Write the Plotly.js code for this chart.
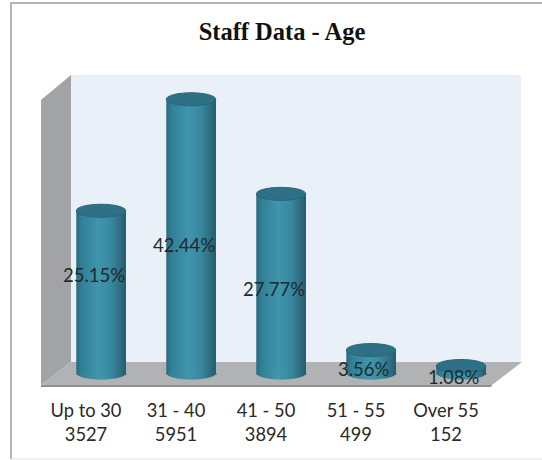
<!DOCTYPE html>
<html>
<head>
<meta charset="utf-8">
<script src="https://cdn.plot.ly/plotly-3.0.1.min.js"></script>
<style>html,body{margin:0;padding:0;background:#fff;overflow:hidden}</style>
</head>
<body>
<div id="chart" style="width:542px;height:460px"></div>
<script>
// Staff head-count per age band
const ageBands = ["Up to 30", "31 - 40", "41 - 50", "51 - 55", "Over 55"];
const staffCounts = [3527, 5951, 3894, 499, 152];
const shareLabels = ["25.15%", "42.44%", "27.77%", "3.56%", "1.08%"];

// Vertical pixel nudge of each share label from the middle of its column
const labelNudge = [17, -9, -6, -7, -7];

// Pixel frame of the plot
const W = 542, H = 460;
const plotL = 56, plotR = 506, plotT = 75, plotB = 381;
const pxPerUnit = 0.046;
const zeroPx = 373;
const yMin = -(plotB - zeroPx) / pxPerUnit;
const yMax = (zeroPx - plotT) / pxPerUnit;

const px = v => (v - plotL) / (plotR - plotL);
const py = v => (plotB - v) / (plotB - plotT);
const poly = pts => "M" + pts.map(p => px(p[0]) + "," + py(p[1])).join("L") + "Z";

// Cylinder geometry in axis units
const colWidth = 0.55;            // share of one category slot
const colShift = 1 / 6;           // columns stand to the right of their tick labels
const capRy = 6.5 / pxPerUnit;    // vertical radius of the elliptical ends
const stripCount = 25;

// Left-to-right shading around the cylinder
const shadeStops = [
  [0.00, [40, 108, 128]],
  [0.10, [48, 127, 149]],
  [0.45, [64, 150, 173]],
  [0.70, [56, 137, 160]],
  [0.90, [46, 108, 128]],
  [1.00, [40, 90, 108]]
];
function shade(t) {
  for (let i = 1; i < shadeStops.length; i++) {
    const a = shadeStops[i - 1], b = shadeStops[i];
    if (t <= b[0]) {
      const f = (t - a[0]) / (b[0] - a[0]);
      const c = a[1].map((v, k) => Math.round(v + (b[1][k] - v) * f));
      return "rgb(" + c.join(",") + ")";
    }
  }
  return "rgb(40,90,108)";
}

const traces = [];
const stripW = colWidth / stripCount;
for (let s = 0; s < stripCount; s++) {
  const left = colShift - colWidth / 2 + s * stripW;
  const t = (s + 0.5) / stripCount;
  // Column body: each strip runs to the right edge so no seams show
  traces.push({
    type: "bar", x: ageBands, y: staffCounts,
    width: colWidth - s * stripW, offset: left,
    marker: {color: shade(t), line: {width: 0}},
    hoverinfo: "skip", showlegend: false, cliponaxis: false
  });
}
for (let s = 0; s < stripCount; s++) {
  const left = colShift - colWidth / 2 + s * stripW;
  const t = (s + 0.5) / stripCount;
  const u = 2 * t - 1;
  const depth = capRy * Math.sqrt(Math.max(0, 1 - u * u));
  // Rounded foot under the column
  traces.push({
    type: "bar", x: ageBands, y: ageBands.map(() => depth), base: ageBands.map(() => -depth),
    width: stripW * 1.3, offset: left,
    marker: {color: shade(t), line: {width: 0}},
    hoverinfo: "skip", showlegend: false, cliponaxis: false
  });
}

// Walls and floor of the 3D box, plus the outer frame
const shapes = [
  {type: "path", xref: "paper", yref: "paper", layer: "below", line: {width: 0},
   fillcolor: "#e9f0f7", path: poly([[71, 75], [521, 75], [521, 362], [71, 362]])},
  {type: "path", xref: "paper", yref: "paper", layer: "below", line: {width: 0},
   fillcolor: "#a1a3a7", path: poly([[41, 100], [71, 75], [71, 362], [41, 385]])},
  {type: "path", xref: "paper", yref: "paper", layer: "below", line: {width: 0},
   fillcolor: "#b0b2b4", path: poly([[41, 385], [71, 362], [522, 362], [492, 385]])},
  {type: "path", xref: "paper", yref: "paper", layer: "below", line: {width: 0},
   fillcolor: "#8d8f92", path: poly([[41, 385], [492, 385], [491, 387], [41, 387]])},
  {type: "line", xref: "paper", yref: "paper", layer: "below", line: {color: "#b4b4b4", width: 2},
   x0: px(11), x1: px(11), y0: py(2), y1: py(459)},
  {type: "line", xref: "paper", yref: "paper", layer: "below", line: {color: "#b4b4b4", width: 2},
   x0: px(11), x1: px(542), y0: py(3), y1: py(3)},
  {type: "line", xref: "paper", yref: "paper", layer: "below", line: {color: "#dddddd", width: 1},
   x0: px(11), x1: px(542), y0: py(459), y1: py(459)}
];

// Elliptical tops sit on each column's value
staffCounts.forEach((v, i) => {
  shapes.push({
    type: "circle", xref: "x", yref: "y", layer: "above",
    x0: i + colShift - colWidth / 2, x1: i + colShift + colWidth / 2,
    y0: v - capRy, y1: v + capRy,
    fillcolor: "#2e7086", line: {color: "#2a6579", width: 1}
  });
});

// Share labels, centred a little left of each column
const annotations = staffCounts.map((v, i) => ({
  x: i + colShift, y: v / 2, xref: "x", yref: "y",
  text: shareLabels[i], showarrow: false,
  xshift: -7, yshift: labelNudge[i],
  font: {family: "Lato, sans-serif", size: 18.5, color: "#1f2a30"}
}));

const layout = {
  width: W, height: H,
  margin: {l: plotL, r: W - plotR, t: plotT, b: H - plotB, pad: 0},
  paper_bgcolor: "#ffffff", plot_bgcolor: "rgba(0,0,0,0)",
  title: {
    text: "<b>Staff Data - Age</b>",
    font: {family: "Liberation Serif, serif", size: 24.5, color: "#111111"},
    x: 282 / W, xanchor: "center", y: 1 - 31 / H, yanchor: "middle"
  },
  barmode: "overlay",
  showlegend: false,
  xaxis: {
    type: "category", range: [-1 / 3, 4.5 + colShift], fixedrange: true,
    tickmode: "array", tickvals: ageBands,
    ticktext: ageBands.map((b, i) => b + "<br>" + staffCounts[i]),
    ticks: "outside", ticklen: 13, tickcolor: "rgba(0,0,0,0)",
    showgrid: false, zeroline: false, showline: false,
    tickfont: {family: "Lato, sans-serif", size: 18.3, color: "#2a2a2a"}
  },
  yaxis: {
    range: [yMin, yMax], fixedrange: true, visible: false,
    showgrid: false, zeroline: false
  },
  shapes, annotations
};

Plotly.newPlot("chart", traces, layout, {displayModeBar: false, staticPlot: true});
</script>
</body>
</html>
